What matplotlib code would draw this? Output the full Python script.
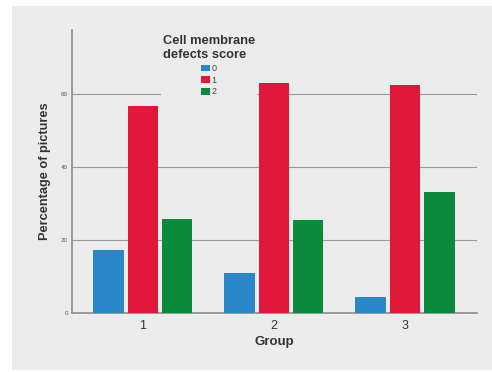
import numpy as np
import matplotlib
matplotlib.use("Agg")
import matplotlib.pyplot as plt
from matplotlib.patches import Rectangle

plt.rcParams["font.family"] = ["Liberation Sans", "DejaVu Sans"]

# Data
groups = ["1", "2", "3"]
scores = ["0", "1", "2"]
score0 = [17.3, 11.0, 4.5]
score1 = [56.8, 63.1, 62.5]
score2 = [25.8, 25.5, 33.0]
yticks = [0, 20, 40, 60]

colors = ["#2a87c8", "#e0193a", "#0b8a3c"]
bg = "#ececec"

fig = plt.figure(figsize=(4.92, 3.72), dpi=100, facecolor="white")
# grey panel behind the chart
fig.add_artist(Rectangle((12 / 492, 2 / 372), 480 / 492, 364 / 372,
                         transform=fig.transFigure, facecolor=bg,
                         edgecolor="none", zorder=-10))

ax = fig.add_axes([72 / 492, 59 / 372, 405 / 492, 283 / 372])
ax.set_facecolor(bg)

x = np.arange(len(groups))
width = 0.233
step = 0.262
for i, (vals, lab) in enumerate(zip([score0, score1, score2], scores)):
    ax.bar(x + (i - 1) * step, vals, width, color=colors[i], label=lab, zorder=3)

ax.set_xlim(-0.54, 2.55)
ax.set_ylim(0, 77.5)
ax.set_yticks(yticks)
ax.set_yticklabels([str(t) for t in yticks])
ax.set_xticks(x)
ax.set_xticklabels(groups)
ax.yaxis.grid(True, color="#9a9a9a", linewidth=0.8, zorder=0)
ax.set_axisbelow(True)

for s in ["top", "right"]:
    ax.spines[s].set_visible(False)
for s in ["left", "bottom"]:
    ax.spines[s].set_color("#8c8c8c")
    ax.spines[s].set_linewidth(1.2)

ax.tick_params(axis="y", length=0, pad=3, labelsize=4.5, labelcolor="#555555")
ax.tick_params(axis="x", length=0, pad=5, labelsize=9, labelcolor="#333333")

ax.set_xlabel("Group", fontsize=9.5, fontweight="bold", color="#333333", labelpad=3)
ax.set_ylabel("Percentage of pictures", fontsize=9.2, fontweight="bold",
              color="#333333", labelpad=7)

leg = ax.legend(title="Cell membrane\ndefects score", loc="upper left",
                bbox_to_anchor=(0.208, 1.003), frameon=True, facecolor=bg,
                edgecolor="none", framealpha=1, fontsize=6.5,
                title_fontproperties={"size": 9.3, "weight": "bold"},
                handlelength=1.0, handleheight=0.75, handletextpad=0.25,
                labelspacing=0.3, borderpad=0.2, alignment="center",
                fancybox=False)
leg.set_zorder(2.5)
leg.get_title().set_multialignment("left")
leg.get_title().set_color("#333333")
for t in leg.get_texts():
    t.set_color("#444444")

fig.savefig("out.png", dpi=100, facecolor="white")
